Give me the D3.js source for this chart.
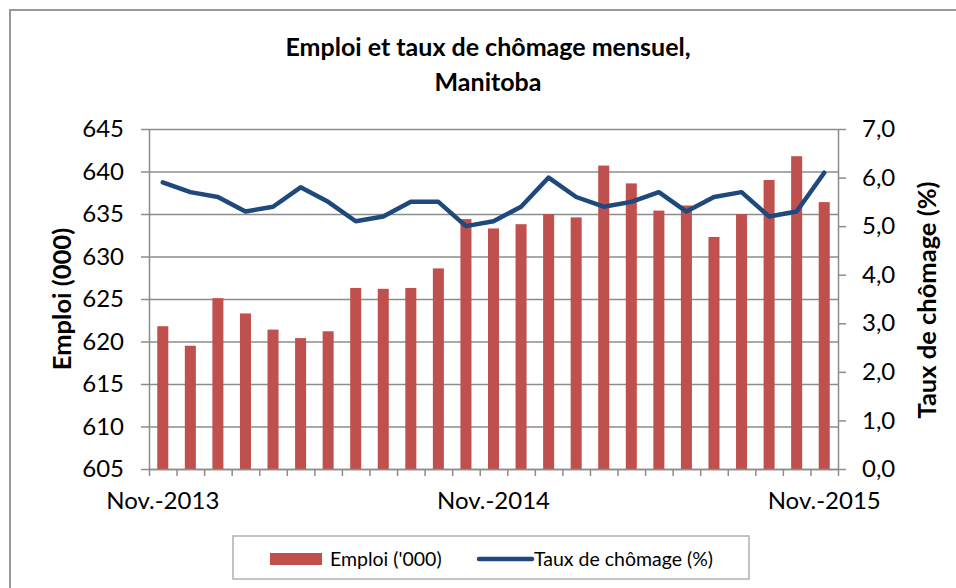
<!DOCTYPE html>
<html>
<head>
<meta charset="utf-8">
<script src="https://cdn.jsdelivr.net/npm/d3@7"></script>
<style>
  body { margin: 0; background: white; }
  #chart { width: 956px; height: 588px; }
  text { font-family: Lato, "Open Sans", sans-serif; fill: black; }
  .grid line { stroke: #8c8c8c; stroke-width: 1.5; }
  .grid path { display: none; }
  .axis path, .axis line { stroke: #8c8c8c; stroke-width: 1.5; }
  .axis text { font-size: 24px; font-family: Lato, sans-serif; }
</style>
</head>
<body>
<div id="chart"></div>
<script>
// months shown on the x axis, Nov. 2013 to Nov. 2015
var months = ["Nov.-2013", "Déc.-2013", "Janv.-2014", "Févr.-2014", "Mars-2014", "Avr.-2014",
  "Mai-2014", "Juin-2014", "Juil.-2014", "Août-2014", "Sept.-2014", "Oct.-2014",
  "Nov.-2014", "Déc.-2014", "Janv.-2015", "Févr.-2015", "Mars-2015", "Avr.-2015",
  "Mai-2015", "Juin-2015", "Juil.-2015", "Août-2015", "Sept.-2015", "Oct.-2015", "Nov.-2015"];
var shownMonths = ["Nov.-2013", "Nov.-2014", "Nov.-2015"];

// Emploi ('000)
var emploi = [621.8, 619.5, 625.1, 623.3, 621.4, 620.4, 621.2, 626.3, 626.2, 626.3, 628.6, 634.4,
  633.3, 633.8, 635.0, 634.6, 640.7, 638.6, 635.4, 636.0, 632.3, 635.0, 639.0, 641.8, 636.4];

// Taux de chômage (%)
var chomage = [5.9, 5.7, 5.6, 5.3, 5.4, 5.8, 5.5, 5.1, 5.2, 5.5, 5.5, 5.0,
  5.1, 5.4, 6.0, 5.6, 5.4, 5.5, 5.7, 5.3, 5.6, 5.7, 5.2, 5.3, 6.1];

var leftTicks = [605, 610, 615, 620, 625, 630, 635, 640, 645];
var rightTicks = [0, 1, 2, 3, 4, 5, 6, 7];

var width = 956, height = 588;
var plotLeft = 149, plotRight = 838, plotTop = 129, plotBottom = 469;

var svg = d3.select("#chart").append("svg")
  .attr("width", width)
  .attr("height", height);

// outer frame
svg.append("rect")
  .attr("x", 10).attr("y", 10)
  .attr("width", width + 10).attr("height", height + 10)
  .attr("fill", "white")
  .attr("stroke", "#999")
  .attr("stroke-width", 2);

var x = d3.scaleBand().domain(months).range([plotLeft, plotRight]).paddingInner(0.6).paddingOuter(0.3);
var xEdge = d3.scaleLinear().domain([0, months.length]).range([plotLeft, plotRight]);
var yLeft = d3.scaleLinear().domain([605, 645]).range([plotBottom, plotTop]);
var yRight = d3.scaleLinear().domain([0, 7]).range([plotBottom, plotTop]);

// horizontal gridlines
svg.append("g")
  .attr("class", "grid")
  .attr("transform", "translate(" + plotLeft + ",0)")
  .call(d3.axisLeft(yLeft).tickValues(leftTicks).tickSize(-(plotRight - plotLeft)).tickFormat(""));

// bars
svg.selectAll(".bar")
  .data(emploi)
  .enter()
  .append("rect")
  .attr("class", "bar")
  .attr("x", function(d, i) { return x(months[i]); })
  .attr("y", function(d) { return yLeft(d); })
  .attr("width", x.bandwidth())
  .attr("height", function(d) { return yLeft(605) - yLeft(d); })
  .attr("fill", "#c0504d");

// axes
svg.append("g")
  .attr("class", "axis")
  .attr("transform", "translate(" + plotLeft + ",0)")
  .call(d3.axisLeft(yLeft).tickValues(leftTicks).tickSize(8).tickPadding(17).tickSizeOuter(0)
    .tickFormat(d3.format("d")));

svg.append("g")
  .attr("class", "axis")
  .attr("transform", "translate(" + plotRight + ",0)")
  .call(d3.axisRight(yRight).tickValues(rightTicks).tickSize(8).tickPadding(16).tickSizeOuter(0)
    .tickFormat(function(d) { return d.toFixed(1).replace(".", ","); }));

svg.append("g")
  .attr("class", "axis")
  .attr("transform", "translate(0," + plotBottom + ")")
  .call(d3.axisBottom(xEdge).tickValues(d3.range(0, months.length + 1)).tickSize(7).tickSizeOuter(0)
    .tickFormat(""));

// x labels
svg.selectAll(".xlabel")
  .data(shownMonths)
  .enter()
  .append("text")
  .attr("class", "xlabel")
  .attr("x", function(d) { return x(d) + x.bandwidth() / 2; })
  .attr("y", 509)
  .attr("text-anchor", "middle")
  .style("font-size", "24px")
  .text(function(d) { return d; });

// line
var line = d3.line()
  .x(function(d, i) { return x(months[i]) + x.bandwidth() / 2; })
  .y(function(d) { return yRight(d); });

svg.append("path")
  .datum(chomage)
  .attr("d", line)
  .attr("fill", "none")
  .attr("stroke", "#1f497d")
  .attr("stroke-width", 4.5)
  .attr("stroke-linejoin", "round")
  .attr("stroke-linecap", "round");

// title
var title = svg.append("text")
  .attr("text-anchor", "middle")
  .attr("font-weight", "bold")
  .style("font-size", "25px");
title.append("tspan").attr("x", 488).attr("y", 56).text("Emploi et taux de chômage mensuel,");
title.append("tspan").attr("x", 488).attr("y", 91).text("Manitoba");

// axis titles
svg.append("text")
  .attr("transform", "translate(71,299) rotate(-90)")
  .attr("text-anchor", "middle")
  .attr("font-weight", "bold")
  .style("font-size", "25.5px")
  .text("Emploi (000)");

svg.append("text")
  .attr("transform", "translate(936,300) rotate(-90)")
  .attr("text-anchor", "middle")
  .attr("font-weight", "bold")
  .style("font-size", "25.5px")
  .text("Taux de chômage (%)");

// legend
var legend = svg.append("g");
legend.append("rect")
  .attr("x", 233).attr("y", 536)
  .attr("width", 516).attr("height", 43)
  .attr("fill", "white")
  .attr("stroke", "#b0b0b0")
  .attr("stroke-width", 1.5);
legend.append("rect")
  .attr("x", 270).attr("y", 553)
  .attr("width", 52).attr("height", 12)
  .attr("fill", "#c0504d");
legend.append("text")
  .attr("x", 330).attr("y", 566)
  .style("font-size", "19.5px")
  .text("Emploi ('000)");
legend.append("line")
  .attr("x1", 479).attr("x2", 532)
  .attr("y1", 559).attr("y2", 559)
  .attr("stroke", "#1f497d")
  .attr("stroke-width", 4.5)
  .attr("stroke-linecap", "round");
legend.append("text")
  .attr("x", 534).attr("y", 566)
  .style("font-size", "19.5px")
  .text("Taux de chômage (%)");
</script>
</body>
</html>
